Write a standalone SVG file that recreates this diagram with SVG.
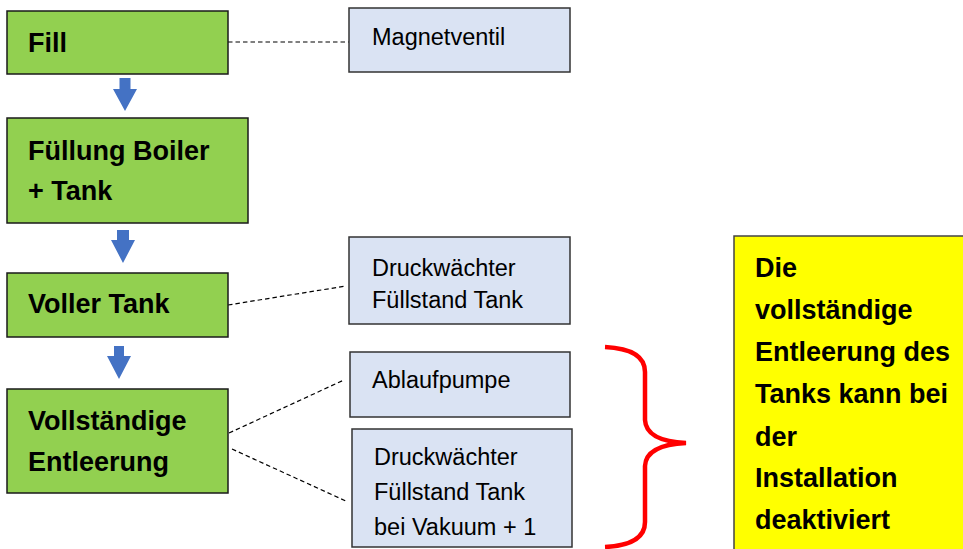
<svg xmlns="http://www.w3.org/2000/svg" width="963" height="549" viewBox="0 0 963 549">
<style>
.step{fill:#92D050;stroke:#1a1a1a;stroke-width:1.5}
.part{fill:#DAE3F3;stroke:#333;stroke-width:1.5}
.note{fill:#FFFF00;stroke:#444;stroke-width:1.5}
.bt{font-family:"Liberation Sans",Arial,sans-serif;font-weight:bold;font-size:27px;fill:#000}
.nt{font-family:"Liberation Sans",Arial,sans-serif;font-size:23.5px;fill:#000}
.dash{stroke:#000;stroke-width:1.2;stroke-dasharray:4.5 3;fill:none}
.arr{fill:#4472C4}
</style>
<rect width="963" height="549" fill="#fff"/>
<g id="connectors">
<line class="dash" x1="228" y1="42" x2="349" y2="42"/>
<line class="dash" x1="228" y1="305" x2="346" y2="286"/>
<line class="dash" x1="229" y1="433" x2="344" y2="380"/>
<line class="dash" x1="232" y1="449" x2="348" y2="502"/>
<polygon class="arr" points="119.5,78 130.5,78 130.5,89 137,89 125,111 113,89 119.5,89"/>
<polygon class="arr" points="117,230 129,230 129,240 135,240 123,263 111,240 117,240"/>
<polygon class="arr" points="114,346 124,346 124,356 131,356 119,379 107,356 114,356"/>
</g>
<g id="fill">
<rect class="step" x="7" y="11" width="221" height="63"/>
<text class="bt" x="28" y="52">Fill</text>
</g>
<g id="fuellung">
<rect class="step" x="7" y="118" width="241" height="105"/>
<text class="bt" x="28" y="160">Füllung Boiler</text>
<text class="bt" x="28" y="200">+ Tank</text>
</g>
<g id="voller">
<rect class="step" x="7" y="273" width="221" height="64"/>
<text class="bt" x="28" y="313">Voller Tank</text>
</g>
<g id="entleerung">
<rect class="step" x="7" y="389" width="221" height="104"/>
<text class="bt" x="28" y="430">Vollständige</text>
<text class="bt" x="28" y="471">Entleerung</text>
</g>
<g id="magnetventil">
<rect class="part" x="349" y="8" width="221" height="64"/>
<text class="nt" x="372" y="45">Magnetventil</text>
</g>
<g id="druck1">
<rect class="part" x="349" y="237" width="221" height="87"/>
<text class="nt" x="372" y="276">Druckwächter</text>
<text class="nt" x="372" y="308">Füllstand Tank</text>
</g>
<g id="ablauf">
<rect class="part" x="350" y="352" width="220" height="65"/>
<text class="nt" x="372" y="388">Ablaufpumpe</text>
</g>
<g id="druck2">
<rect class="part" x="352" y="429" width="220" height="118"/>
<text class="nt" x="374" y="465">Druckwächter</text>
<text class="nt" x="374" y="500">Füllstand Tank</text>
<text class="nt" x="374" y="535">bei Vakuum + 1</text>
</g>
<g id="brace">
<path d="M605,347 Q645,349 645,372 L645,420 Q646,441 686,443 Q646,445 645,466 L645,522 Q645,545 605,547" fill="none" stroke="#FF0000" stroke-width="4.5"/>
</g>
<g id="hinweis">
<rect class="note" x="734" y="236" width="240" height="320"/>
<text class="bt" x="755" y="277">Die</text>
<text class="bt" x="755" y="319">vollständige</text>
<text class="bt" x="755" y="361">Entleerung des</text>
<text class="bt" x="755" y="403">Tanks kann bei</text>
<text class="bt" x="755" y="446">der</text>
<text class="bt" x="755" y="487">Installation</text>
<text class="bt" x="755" y="529">deaktiviert</text>
</g>
</svg>
